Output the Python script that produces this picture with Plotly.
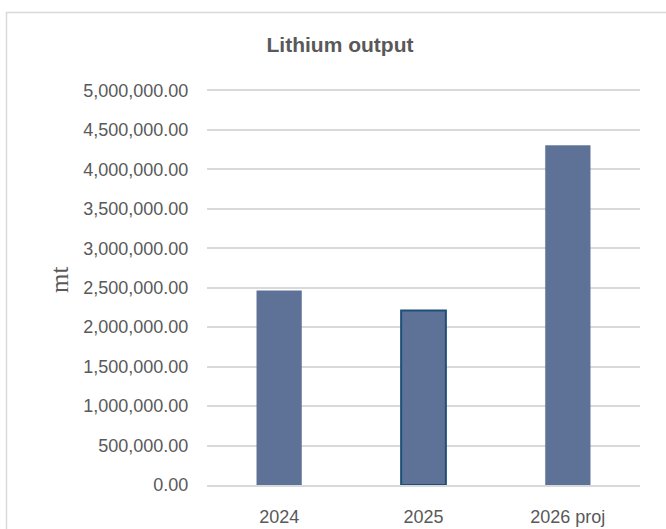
import plotly.graph_objects as go

# Lithium output by year (metric tonnes)
years = ["2024", "2025", "2026 proj"]
output_mt = [2460000, 2210000, 4300000]
y_ticks = [0, 500000, 1000000, 1500000, 2000000, 2500000, 3000000, 3500000, 4000000, 4500000, 5000000]

W, H = 666, 529
L, R, T, B = 207, 26, 88, 44
Y_MAX = 5030000  # a touch above the top tick so its gridline is drawn

bar_fill = "#5e7298"
edge_colors = [bar_fill, "#1f4e79", bar_fill]
edge_widths = [0.5, 2, 0.5]

fig = go.Figure(
    go.Bar(
        x=years,
        y=output_mt,
        width=0.31,
        marker=dict(color=bar_fill, line=dict(color=edge_colors, width=edge_widths)),
        hovertemplate="%{x}: %{y:,.2f} mt<extra></extra>",
    )
)

pw, ph = W - L - R, H - T - B


def px_to_paper_x(px):
    return (px - L) / pw


def px_to_paper_y(py):
    return (H - B - py) / ph


text_color = "#595959"

fig.update_layout(
    width=W,
    height=H,
    margin=dict(l=L, r=R, t=T, b=B, pad=0),
    paper_bgcolor="white",
    plot_bgcolor="white",
    showlegend=False,
    font=dict(family="Liberation Sans, Arial, sans-serif", color=text_color, size=18),
    title=dict(
        text="<b>Lithium output</b>",
        x=340 / W,
        xanchor="center",
        xref="container",
        y=1 - 45 / H,
        yanchor="middle",
        font=dict(size=21, color=text_color),
    ),
    xaxis=dict(
        showgrid=False,
        showline=True,
        linecolor="#d9d9d9",
        linewidth=1.5,
        ticks="outside",
        ticklen=15,
        tickcolor="rgba(0,0,0,0)",
        tickfont=dict(size=18, color=text_color),
        automargin=False,
        fixedrange=True,
    ),
    yaxis=dict(
        range=[0, Y_MAX],
        tickvals=y_ticks,
        tickformat=",.2f",
        showgrid=True,
        gridcolor="#d9d9d9",
        gridwidth=1.5,
        zeroline=False,
        showline=False,
        ticks="outside",
        ticklen=14,
        tickcolor="rgba(0,0,0,0)",
        tickfont=dict(size=18, color=text_color),
        automargin=False,
        fixedrange=True,
    ),
    annotations=[
        dict(
            text="mt",
            xref="paper",
            yref="paper",
            x=px_to_paper_x(59),
            y=px_to_paper_y(280),
            xanchor="center",
            yanchor="middle",
            textangle=-90,
            showarrow=False,
            font=dict(family="Liberation Serif, Times New Roman, serif", size=25, color=text_color),
        )
    ],
    shapes=[
        dict(
            type="rect",
            xref="paper",
            yref="paper",
            x0=px_to_paper_x(6.5),
            x1=px_to_paper_x(W + 10),
            y0=px_to_paper_y(H + 10),
            y1=px_to_paper_y(12.5),
            line=dict(color="#d9d9d9", width=1.5),
            fillcolor="rgba(0,0,0,0)",
            layer="below",
        )
    ],
)

fig.write_html("out.html")
